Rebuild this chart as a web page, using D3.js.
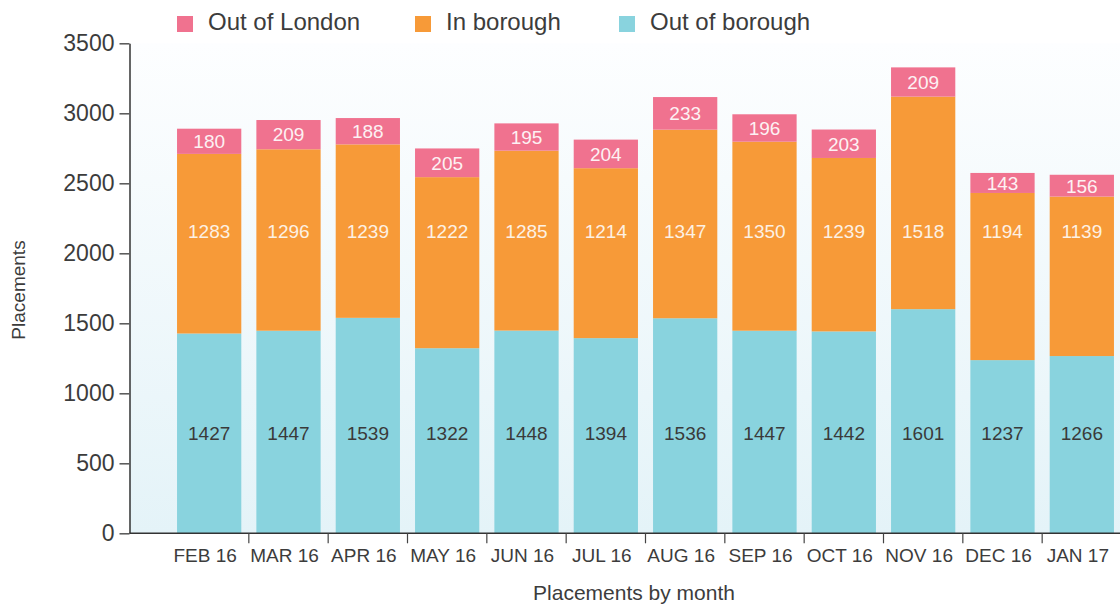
<!DOCTYPE html>
<html>
<head>
<meta charset="utf-8">
<script src="https://cdn.jsdelivr.net/npm/d3@7"></script>
<style>
  html, body { margin: 0; padding: 0; background: #ffffff; }
  svg { display: block; font-family: "Liberation Sans", Arial, Helvetica, sans-serif; }
</style>
</head>
<body>
<svg id="chart" width="1120" height="605"></svg>
<script>
// ---- Data ----
const months = ["FEB 16","MAR 16","APR 16","MAY 16","JUN 16","JUL 16","AUG 16","SEP 16","OCT 16","NOV 16","DEC 16","JAN 17"];
const outOfBorough = [1427,1447,1539,1322,1448,1394,1536,1447,1442,1601,1237,1266];
const inBorough    = [1283,1296,1239,1222,1285,1214,1347,1350,1239,1518,1194,1139];
const outOfLondon  = [180,209,188,205,195,204,233,196,203,209,143,156];
const yTicks = [0,500,1000,1500,2000,2500,3000,3500];
const seriesNames = ["Out of borough","In borough","Out of London"];
const legendOrder = ["Out of London","In borough","Out of borough"];

// ---- Styles ----
const colors = {"Out of borough":"#89d3de","In borough":"#f79a38","Out of London":"#f0728f"};
const labelColors = {"Out of borough":"#3a3a3a","In borough":"#fdf1e4","Out of London":"#fdf1f3"};
const textColor = "#3c3c3c";

const svg = d3.select("#chart");
const plot = {left: 129.5, right: 1120, top: 43.3, bottom: 533.3};

const table = months.map((m,i) => ({month:m, "Out of borough":outOfBorough[i], "In borough":inBorough[i], "Out of London":outOfLondon[i]}));
const stacked = d3.stack().keys(seriesNames)(table);

const x = d3.scaleBand().domain(months).range([169.5, 1121.5]).paddingInner(0.19).paddingOuter(0.095);
const y = d3.scaleLinear().domain([0,3500]).range([plot.bottom, plot.top]);

// background gradient
const defs = svg.append("defs");
const grad = defs.append("linearGradient").attr("id","bg").attr("x1",0).attr("y1",0).attr("x2",0).attr("y2",1);
grad.append("stop").attr("offset","0%").attr("stop-color","#fdfeff");
grad.append("stop").attr("offset","100%").attr("stop-color","#e4f3f8");
svg.append("rect").attr("x",plot.left).attr("y",plot.top).attr("width",plot.right-plot.left).attr("height",plot.bottom-plot.top).attr("fill","url(#bg)");

// bars
const layers = svg.append("g").selectAll("g").data(stacked).join("g").attr("fill", d => colors[d.key]);
layers.selectAll("rect").data(d => d).join("rect")
  .attr("x", d => x(d.data.month))
  .attr("width", x.bandwidth())
  .attr("y", d => y(d[1]))
  .attr("height", d => y(d[0]) - y(d[1]));

// labels: fixed level for the two lower series, centered for the top one
const labelLevel = {"Out of borough": 717, "In borough": 2159};
stacked.forEach(layer => {
  svg.append("g").selectAll("text").data(layer).join("text")
    .attr("x", d => x(d.data.month) + x.bandwidth()/2)
    .attr("y", d => layer.key === "Out of London" ? (y(d[0]) + y(d[1]))/2 : y(labelLevel[layer.key]))
    .attr("dy","0.36em")
    .attr("text-anchor","middle")
    .attr("font-size", 19)
    .attr("fill", labelColors[layer.key])
    .text(d => d.data[layer.key]);
});

// y axis
const yAxis = svg.append("g").attr("transform",`translate(${plot.left},0)`)
  .call(d3.axisLeft(y).tickValues(yTicks).tickFormat(d3.format("d")).tickSize(10).tickPadding(5).tickSizeOuter(0));
yAxis.select(".domain").attr("stroke","#333").attr("stroke-width",1.5);
yAxis.selectAll(".tick line").attr("stroke","#555").attr("stroke-width",1.5);
yAxis.selectAll(".tick text").attr("font-size",23).attr("fill",textColor).attr("font-family","Liberation Sans, Arial, sans-serif");

// x axis
const xAxisG = svg.append("g").attr("transform",`translate(0,${plot.bottom})`);
xAxisG.append("line").attr("x1",plot.left).attr("x2",plot.right).attr("y1",0).attr("y2",0).attr("stroke","#333").attr("stroke-width",1.5);
const gap = x.step() * x.paddingInner() / 2;
xAxisG.selectAll("line.tk").data(months.slice(1)).join("line").attr("class","tk")
  .attr("x1", d => x(d) - gap).attr("x2", d => x(d) - gap)
  .attr("y1",0).attr("y2",10).attr("stroke","#444").attr("stroke-width",1.2);
xAxisG.selectAll("text.tl").data(months).join("text").attr("class","tl")
  .attr("x", d => x(d) + x.bandwidth()/2 - 4)
  .attr("y", 29)
  .attr("text-anchor","middle")
  .attr("font-size",19)
  .attr("fill",textColor)
  .text(d => d);

// axis titles
svg.append("text").attr("x",634).attr("y",600).attr("text-anchor","middle").attr("font-size",21).attr("fill",textColor).text("Placements by month");
svg.append("text").attr("transform","translate(25,290) rotate(-90)").attr("text-anchor","middle").attr("font-size",19).attr("fill",textColor).text("Placements");

// legend
const legendX = [177, 415, 619];
const lg = svg.append("g").selectAll("g").data(legendOrder).join("g")
  .attr("transform",(d,i) => `translate(${legendX[i]},16)`);
lg.append("rect").attr("width",16).attr("height",16).attr("fill", d => colors[d]);
lg.append("text").attr("x",31).attr("y",14).attr("font-size",24).attr("fill",textColor).text(d => d);
</script>
</body>
</html>
